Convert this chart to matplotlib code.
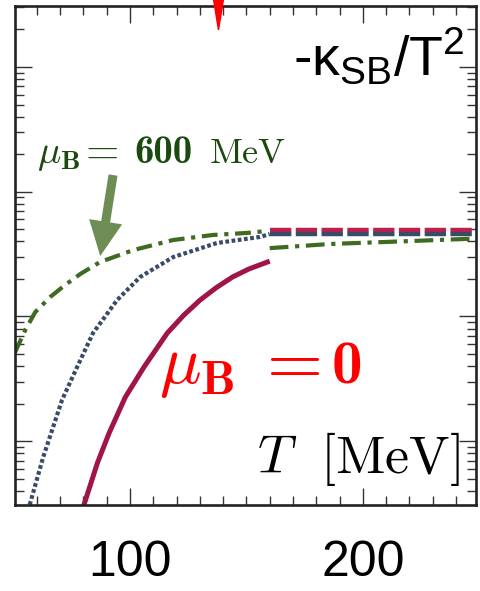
#!/usr/bin/env python
"""
Curvature -kappa_SB/T^2 against temperature, mu_B = 0 and mu_B = 600 MeV.
"""

# Third party modules.
import matplotlib
matplotlib.use("Agg")
import matplotlib.pyplot as plt
from matplotlib.ticker import MultipleLocator, LogLocator, NullFormatter
from matplotlib.patches import Polygon
import matplotlib.transforms as mtransforms

plt.rcParams['font.family'] = ['Liberation Sans', 'DejaVu Sans']
plt.rcParams['mathtext.fontset'] = 'cm'
plt.rcParams['mathtext.rm'] = 'Liberation Sans'

# Data.
T_mu0 = [79, 80, 86, 91, 98, 106, 116, 123, 130, 137, 144, 151, 159]
kappa_mu0 = [2.8e-4, 3.0e-4, 6.7e-4, 1.16e-3, 2.26e-3, 3.93e-3, 7.36e-3, 0.0102, 0.0135,
             0.0170, 0.0207, 0.0240, 0.0273]

T_mu0_ideal = [55.5, 57.1, 62.7, 70.8, 77.3, 84.1, 94.4, 104.3, 118.5, 137.3, 155.8, 160]
kappa_mu0_ideal = [2.8e-4, 3.18e-4, 7.45e-4, 2.14e-3, 3.94e-3, 7.36e-3, 0.0135, 0.0207,
                   0.0299, 0.0388, 0.0434, 0.0458]

T_mu600 = [50.5, 55.0, 59.3, 65.7, 72.1, 78.6, 87.1, 101.3, 118.5, 135.6, 150.1, 158.7]
kappa_mu600 = [5.1e-3, 7.78e-3, 0.01084, 0.01432, 0.01786, 0.02188, 0.02729, 0.0340,
               0.0410, 0.0450, 0.0467, 0.0484]

T_mu600_high = [160, 185.8, 220, 243.8, 250]
kappa_mu600_high = [0.0353, 0.0381, 0.0402, 0.0418, 0.0421]

T_sb = [160, 250]
kappa_sb_red = [0.0496, 0.0496]
kappa_sb_blue = [0.0462, 0.0462]

T_marker = 138
arrow_from = (92.7, 0.136)
arrow_to = (87.2, 0.0305)

xlim = (50.6, 248.6)
ylim = (3.08e-4, 3.08)

CM_BOLD = 'cmb10'
CM_ROMAN = 'cmr10'


def run():
    fig = plt.figure(figsize=(4.81, 5.91), dpi=100)
    ax = fig.add_axes([0.0312, 0.1455, 0.9584, 0.8443])

    ax.plot(T_sb, kappa_sb_red, color='#c01f4c', lw=3.2, dashes=(4.8, 1.0))
    ax.plot(T_sb, kappa_sb_blue, color='#3a4b68', lw=3.2, dashes=(4.8, 1.0))
    ax.plot(T_mu600_high, kappa_mu600_high, color='#3e6b1f', lw=3.0, dashes=(4.5, 1.6, 1, 1.6))
    ax.plot(T_mu600, kappa_mu600, color='#3e6b1f', lw=3.0, dashes=(3.8, 1.6, 1, 1.6))
    ax.plot(T_mu0_ideal, kappa_mu0_ideal, color='#3a4b68', lw=3.0, dashes=(0.9, 0.6))
    ax.plot(T_mu0, kappa_mu0, color='#a0144a', lw=3.6)

    ax.set_yscale('log')
    ax.set_xlim(*xlim)
    ax.set_ylim(*ylim)

    ax.xaxis.set_major_locator(MultipleLocator(100))
    ax.xaxis.set_minor_locator(MultipleLocator(10))
    ax.yaxis.set_major_locator(LogLocator(base=10))
    ax.yaxis.set_minor_locator(LogLocator(base=10, subs=range(2, 10)))
    ax.yaxis.set_major_formatter(NullFormatter())
    ax.yaxis.set_minor_formatter(NullFormatter())

    ax.tick_params(which='both', direction='in', top=True, right=True, color='#333333')
    ax.tick_params(which='major', length=12.5, width=1.0, labelsize=36, pad=25)
    ax.tick_params(which='minor', length=6.5, width=1.0)
    for spine in ax.spines.values():
        spine.set_linewidth(1.9)
        spine.set_color('#222222')

    # red marker sticking in from the top
    trans = mtransforms.blended_transform_factory(ax.transData, ax.transAxes)
    tri = Polygon([(T_marker - 2.2, 1.015), (T_marker + 2.2, 1.015), (T_marker, 0.952)],
                  closed=True, transform=trans, color='red', clip_on=False, zorder=5)
    ax.add_patch(tri)

    ax.annotate('', xy=arrow_to, xytext=arrow_from,
                arrowprops=dict(width=6.5, headwidth=24, headlength=25, shrink=0,
                                color='#6d8d55', lw=0))

    # mu_B = 600 MeV
    green = '#1b4a10'
    ax.text(0.048, 0.685, r'$\mu_{\mathbf{B}}$', transform=ax.transAxes, color=green,
            fontsize=28, ha='left', va='baseline')
    ax.text(0.137, 0.685, r'$=$', transform=ax.transAxes, color=green,
            fontsize=31, ha='left', va='baseline')
    ax.text(0.258, 0.685, '600', transform=ax.transAxes, color=green, family=CM_BOLD,
            fontsize=28, ha='left', va='baseline')
    ax.text(0.423, 0.685, 'MeV', transform=ax.transAxes, color=green, family=CM_ROMAN,
            fontsize=26, ha='left', va='baseline')

    # mu_B = 0
    ax.text(0.312, 0.2445, r'$\mu_{\mathbf{B}}$', transform=ax.transAxes, color='red',
            fontsize=50, ha='left', va='baseline')
    ax.text(0.518, 0.2445, r'$=$', transform=ax.transAxes, color='red',
            fontsize=52, ha='left', va='baseline')
    ax.text(0.686, 0.2445, '0', transform=ax.transAxes, color='red', family=CM_BOLD,
            fontsize=44, ha='left', va='baseline')

    ax.text(0.965, 0.064, r'$T\ \ [\mathrm{MeV}]$',
            transform=ax.transAxes, color='black', fontsize=39, ha='right', va='baseline')
    ax.text(0.976, 0.862, r'-κ$_{\mathrm{SB}}$/T$^{2}$', math_fontfamily='custom',
            transform=ax.transAxes, color='black', fontsize=40, ha='right', va='baseline')

    fig.savefig('out.png', dpi=100)


if __name__ == '__main__':  # pragma: no cover
    run()
